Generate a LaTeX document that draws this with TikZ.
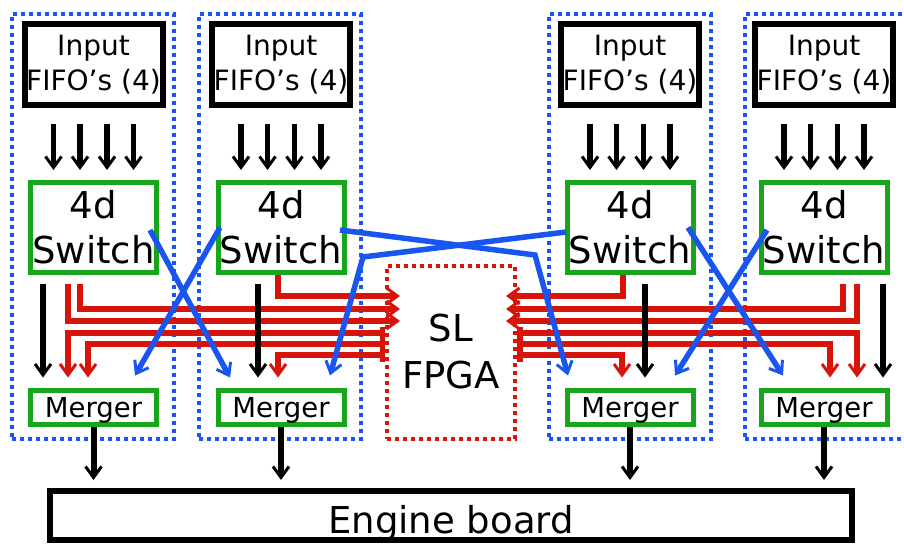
\documentclass[tikz,border=0pt]{standalone}
\usepackage{fontspec}
\setmainfont{DejaVu Sans}
\usetikzlibrary{arrows.meta,calc}

\definecolor{grpblue}{RGB}{25,85,240}
\definecolor{boxgreen}{RGB}{25,165,25}
\definecolor{linkred}{RGB}{215,20,10}

\begin{document}
\begin{tikzpicture}[x=1pt,y=-1pt,
  >={Straight Barb[length=11pt,width=16pt,line width=3pt]},
  group/.style={rectangle,draw=grpblue,line width=4pt,dash pattern=on 4pt off 4pt,minimum width=162pt,minimum height=425pt},
  fifo/.style={rectangle,draw,line width=6pt,minimum width=138pt,minimum height=81pt,inner sep=0pt,align=center,font=\fontsize{28}{35}\selectfont},
  switchbox/.style={rectangle,draw=boxgreen,line width=5pt,minimum width=126pt,minimum height=90pt,inner sep=0pt,align=center,font=\fontsize{37}{45}\selectfont},
  merger/.style={rectangle,draw=boxgreen,line width=5pt,minimum width=126pt,minimum height=34pt,inner sep=0pt,text depth=0pt,font=\fontsize{27.5}{32}\selectfont},
  feed/.style={->,line width=5.5pt},
  redlink/.style={->,draw=linkred,line width=5.5pt},
  bluelink/.style={->,draw=grpblue,line width=5.5pt}]
\useasboundingbox (0,0) rectangle (904,543);
\clip (0,0) rectangle (904,543);

% four switch groups
\node[group] (grpA) at (93,226.5) {};
\node[group] (grpB) at (280,226.5) {};
\node[group] (grpC) at (629.5,226.5) {};
\node[group] (grpD) at (826,226.5) {};

\node[fifo] (fifoA) at (93.5,64.5) {Input\\FIFO's (4)};
\node[fifo] (fifoB) at (281,64.5) {Input\\FIFO's (4)};
\node[fifo] (fifoC) at (630,64.5) {Input\\FIFO's (4)};
\node[fifo] (fifoD) at (824,64.5) {Input\\FIFO's (4)};

\node[switchbox] (swA) at (93.5,227.5) {4d\\Switch};
\node[switchbox] (swB) at (281,227.5) {4d\\Switch};
\node[switchbox] (swC) at (630,227.5) {4d\\Switch};
\node[switchbox] (swD) at (824,227.5) {4d\\Switch};

\node[merger] (mgA) at (93.5,407) {Merger};
\node[merger] (mgB) at (281,407) {Merger};
\node[merger] (mgC) at (630,407) {Merger};
\node[merger] (mgD) at (824,407) {Merger};

\node[rectangle,draw=linkred,line width=4pt,dash pattern=on 4pt off 4pt,minimum width=128pt,minimum height=173pt,align=center,font=\fontsize{37}{47}\selectfont] (fpga) at (451,352) {SL\\FPGA};
\node[rectangle,draw,line width=6pt,minimum width=802pt,minimum height=49pt,text height=36pt,text depth=0pt,font=\fontsize{37}{44}\selectfont] (engine) at (451,515.5) {Engine board};

% fifo outputs
\draw[feed,shorten <=16pt,shorten >=10pt] ([xshift=-40pt]fifoA.south) -- ([xshift=-40pt]swA.north);
\draw[feed,shorten <=16pt,shorten >=10pt] ([xshift=-13.5pt]fifoA.south) -- ([xshift=-13.5pt]swA.north);
\draw[feed,shorten <=16pt,shorten >=10pt] ([xshift=13.5pt]fifoA.south) -- ([xshift=13.5pt]swA.north);
\draw[feed,shorten <=16pt,shorten >=10pt] ([xshift=40pt]fifoA.south) -- ([xshift=40pt]swA.north);
\draw[feed,shorten <=16pt,shorten >=10pt] ([xshift=-40pt]fifoB.south) -- ([xshift=-40pt]swB.north);
\draw[feed,shorten <=16pt,shorten >=10pt] ([xshift=-13.5pt]fifoB.south) -- ([xshift=-13.5pt]swB.north);
\draw[feed,shorten <=16pt,shorten >=10pt] ([xshift=13.5pt]fifoB.south) -- ([xshift=13.5pt]swB.north);
\draw[feed,shorten <=16pt,shorten >=10pt] ([xshift=40pt]fifoB.south) -- ([xshift=40pt]swB.north);
\draw[feed,shorten <=16pt,shorten >=10pt] ([xshift=-40pt]fifoC.south) -- ([xshift=-40pt]swC.north);
\draw[feed,shorten <=16pt,shorten >=10pt] ([xshift=-13.5pt]fifoC.south) -- ([xshift=-13.5pt]swC.north);
\draw[feed,shorten <=16pt,shorten >=10pt] ([xshift=13.5pt]fifoC.south) -- ([xshift=13.5pt]swC.north);
\draw[feed,shorten <=16pt,shorten >=10pt] ([xshift=40pt]fifoC.south) -- ([xshift=40pt]swC.north);
\draw[feed,shorten <=16pt,shorten >=10pt] ([xshift=-40pt]fifoD.south) -- ([xshift=-40pt]swD.north);
\draw[feed,shorten <=16pt,shorten >=10pt] ([xshift=-13.5pt]fifoD.south) -- ([xshift=-13.5pt]swD.north);
\draw[feed,shorten <=16pt,shorten >=10pt] ([xshift=13.5pt]fifoD.south) -- ([xshift=13.5pt]swD.north);
\draw[feed,shorten <=16pt,shorten >=10pt] ([xshift=40pt]fifoD.south) -- ([xshift=40pt]swD.north);

% links to and from the FPGA
\draw[redlink] ([xshift=-3pt]swB.south) |- ($(fpga.west |- 0,296)+(15,0)$);
\draw[redlink,shorten <=9pt] ([xshift=-13.5pt]swA.south) |- ($(fpga.west |- 0,309)+(15,0)$);
\draw[redlink,shorten <=9pt] ([xshift=-25.5pt]swA.south) |- ($(fpga.west |- 0,321)+(15,0)$);
\draw[redlink,{Bar[width=13pt]}->,shorten >=10pt] (fpga.west |- 0,333) -| ([xshift=-25.5pt]mgA.north);
\draw[redlink,{Bar[width=13pt]}->,shorten >=10pt] (fpga.west |- 0,344) -| ([xshift=-5.5pt]mgA.north);
\draw[redlink,{Bar[width=13pt]}->,shorten >=10pt] (fpga.west |- 0,355) -| ([xshift=-3pt]mgB.north);
\draw[redlink] ([xshift=-7pt]swC.south) |- ($(fpga.east |- 0,296)+(-11,0)$);
\draw[redlink,shorten <=9pt] ([xshift=19pt]swD.south) |- ($(fpga.east |- 0,309)+(-11,0)$);
\draw[redlink,shorten <=9pt] ([xshift=33pt]swD.south) |- ($(fpga.east |- 0,321)+(-11,0)$);
\draw[redlink,{Bar[width=13pt]}->,shorten >=10pt] (fpga.east |- 0,333) -| ([xshift=33pt]mgD.north);
\draw[redlink,{Bar[width=13pt]}->,shorten >=10pt] (fpga.east |- 0,344) -| ([xshift=6pt]mgD.north);
\draw[redlink,{Bar[width=13pt]}->,shorten >=10pt] (fpga.east |- 0,355) -| ([xshift=-8pt]mgC.north);

% crossed links
\coordinate (bendR) at (535,255);
\coordinate (bendL) at (363,257);
\draw[bluelink] ([xshift=56.5pt,yshift=-2.5pt]swA.center) -- ([xshift=-51pt,yshift=10pt]mgB.north);
\draw[bluelink] ([xshift=-61pt]swB.center) -- ([xshift=41.5pt,yshift=12pt]mgA.north);
\draw[bluelink] ([xshift=-6.5pt,yshift=-2.5pt]swB.east) -- (bendR) -- ([xshift=-62pt,yshift=12pt]mgC.north);
\draw[bluelink] ([xshift=1.5pt,yshift=-4.5pt]swC.west) -- (bendL) -- ([xshift=49pt,yshift=12pt]mgB.north);
\draw[bluelink] ([xshift=58pt]swC.center) -- ([xshift=-41pt,yshift=12pt]mgD.north);
\draw[bluelink] ([xshift=-57pt,yshift=-2.5pt]swD.center) -- ([xshift=45pt,yshift=12pt]mgC.north);

% switch to merger
\draw[feed,shorten <=9pt,shorten >=10pt] ([xshift=-50.5pt]swA.south) -- ([xshift=-50.5pt]mgA.north);
\draw[feed,shorten <=9pt,shorten >=10pt] ([xshift=-23pt]swB.south) -- ([xshift=-23pt]mgB.north);
\draw[feed,shorten <=9pt,shorten >=10pt] ([xshift=15pt]swC.south) -- ([xshift=15pt]mgC.north);
\draw[feed,shorten <=9pt,shorten >=10pt] ([xshift=59pt]swD.south) -- ([xshift=59pt]mgD.north);

% merger to engine board
\draw[feed,line width=6pt,shorten >=8pt] (mgA.south) -- (mgA.south |- engine.north);
\draw[feed,line width=6pt,shorten >=8pt] (mgB.south) -- (mgB.south |- engine.north);
\draw[feed,line width=6pt,shorten >=8pt] (mgC.south) -- (mgC.south |- engine.north);
\draw[feed,line width=6pt,shorten >=8pt] (mgD.south) -- (mgD.south |- engine.north);
\end{tikzpicture}
\end{document}
